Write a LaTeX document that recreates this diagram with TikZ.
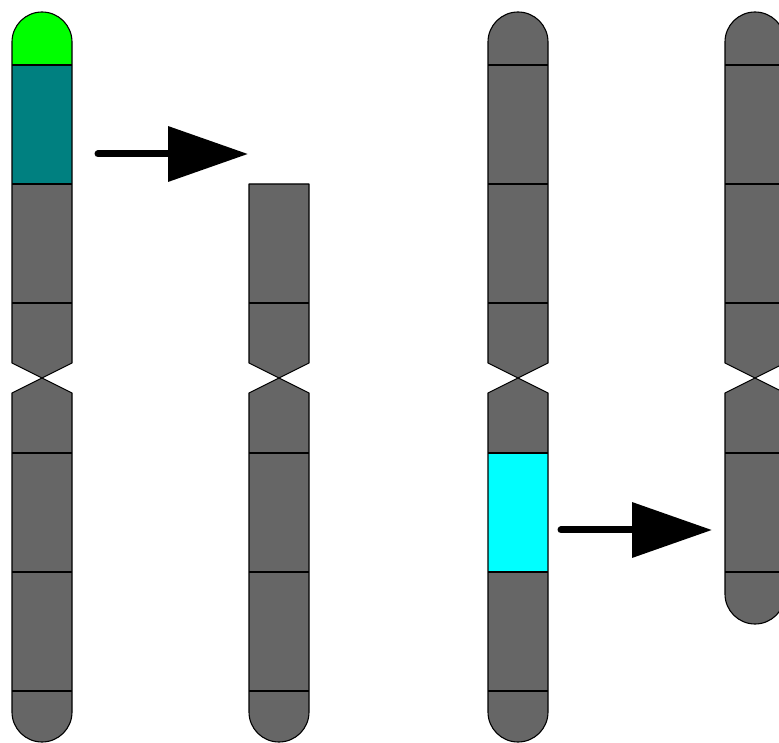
\documentclass[tikz,border=0pt]{standalone}
\usetikzlibrary{arrows.meta}
\definecolor{chromgray}{HTML}{666666}
\definecolor{capgreen}{HTML}{00FF00}
\definecolor{bandteal}{HTML}{008080}
\definecolor{bandcyan}{HTML}{00FFFF}
\tikzset{
  outline/.style={draw=black, line width=1.1pt, line join=round},
  bandline/.style={draw=black, line width=1.1pt},
  bigarrow/.style={line width=7pt, line cap=round,
    -{Triangle[length=80pt 0, width=54pt 0]}},
  % chromosome outlines in local coordinates (x from 0 to 60)
  fullchrom/.style={insert path={
    (0,349) -- (0,30) arc[start angle=180, end angle=360, radius=30]
    -- (60,349) -- (30,364) -- (60,379) -- (60,700)
    arc[start angle=0, end angle=180, radius=30]
    -- (0,379) -- (30,364) -- cycle}},
  cutchrom/.style={insert path={
    (0,349) -- (0,30) arc[start angle=180, end angle=360, radius=30]
    -- (60,349) -- (30,364) -- (60,379) -- (60,558)
    -- (0,558) -- (0,379) -- (30,364) -- cycle}},
  shortchrom/.style={insert path={
    (0,349) -- (0,148) arc[start angle=180, end angle=360, radius=30]
    -- (60,349) -- (30,364) -- (60,379) -- (60,700)
    arc[start angle=0, end angle=180, radius=30]
    -- (0,379) -- (30,364) -- cycle}},
}
\begin{document}
\begin{tikzpicture}[x=1pt, y=1pt]
\useasboundingbox (0,0) rectangle (779,742);

% original chromosome with terminal green and teal bands
\begin{scope}[xshift=12pt]
  \fill[chromgray, fullchrom];
  \begin{scope}
    \clip[fullchrom];
    \fill[capgreen] (0,677) rectangle (60,735);
    \fill[bandteal] (0,558) rectangle (60,677);
  \end{scope}
  \foreach \y in {677,558,439,289,170,51} \draw[bandline] (0,\y) -- (60,\y);
  \draw[outline, fullchrom];
\end{scope}

% chromosome after terminal deletion
\begin{scope}[xshift=249pt]
  \fill[chromgray, cutchrom];
  \foreach \y in {439,289,170,51} \draw[bandline] (0,\y) -- (60,\y);
  \draw[outline, cutchrom];
\end{scope}

% original chromosome with interstitial cyan band
\begin{scope}[xshift=488pt]
  \fill[chromgray, fullchrom];
  \fill[bandcyan] (0,170) rectangle (60,289);
  \foreach \y in {677,558,439,289,170,51} \draw[bandline] (0,\y) -- (60,\y);
  \draw[outline, fullchrom];
\end{scope}

% chromosome after interstitial deletion
\begin{scope}[xshift=725pt]
  \fill[chromgray, shortchrom];
  \foreach \y in {677,558,439,289,170} \draw[bandline] (0,\y) -- (60,\y);
  \draw[outline, shortchrom];
\end{scope}

% arrows
\coordinate (a1s) at (98,588);
\coordinate (a1e) at (248,588);
\coordinate (a2s) at (561,212);
\coordinate (a2e) at (712,212);
\draw[bigarrow] (a1s) -- (a1e);
\draw[bigarrow] (a2s) -- (a2e);
\end{tikzpicture}
\end{document}
